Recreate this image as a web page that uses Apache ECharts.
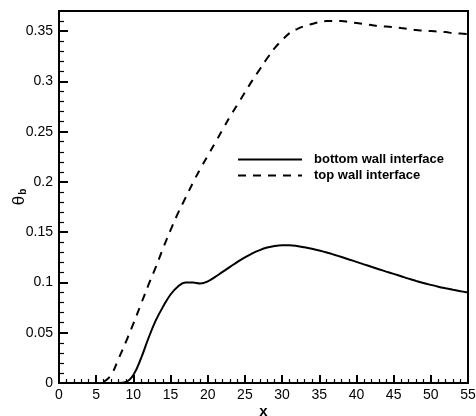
<!DOCTYPE html>
<html>
<head>
<meta charset="utf-8">
<script src="https://cdn.jsdelivr.net/npm/echarts@6/dist/echarts.min.js"></script>
<style>html,body{margin:0;padding:0;background:#fff;}#c{width:476px;height:416px;}</style>
</head>
<body>
<div id="c"></div>
<script>
// x positions
var xBottom = [0, 8, 9, 10, 11, 12, 13, 14, 15, 16, 17, 18, 19, 20, 21, 22, 23, 24, 25, 26, 27, 28, 29, 30, 31, 32, 33, 34, 35, 36, 37, 38, 39, 40, 41, 42, 43, 44, 45, 46, 47, 48, 49, 50, 51, 52, 53, 54, 55];
var yBottom = [0, 0, 0.001, 0.008, 0.024, 0.044, 0.062, 0.076, 0.088, 0.096, 0.100, 0.100, 0.099, 0.101, 0.1055, 0.1105, 0.1155, 0.1205, 0.125, 0.129, 0.1322, 0.1347, 0.1363, 0.137, 0.137, 0.1363, 0.135, 0.1335, 0.1318, 0.1298, 0.1276, 0.1253, 0.1229, 0.1205, 0.118, 0.1156, 0.1132, 0.1108, 0.1085, 0.1062, 0.1038, 0.1016, 0.0995, 0.0976, 0.0958, 0.0942, 0.0927, 0.0913, 0.090];
var xTop = [0, 5.5, 6, 7, 8, 9, 10, 11, 12, 13, 14, 15, 16, 17, 18, 19, 20, 21, 22, 23, 24, 25, 26, 27, 28, 29, 30, 31, 32, 33, 34, 35, 36, 37, 38, 39, 40, 41, 42, 43, 44, 45, 46, 47, 48, 49, 50, 51, 52, 53, 54, 55];
var yTop = [0, 0, 0.001, 0.008, 0.024, 0.041, 0.059, 0.078, 0.097, 0.115, 0.134, 0.152, 0.169, 0.184, 0.199, 0.213, 0.226, 0.239, 0.252, 0.265, 0.277, 0.289, 0.301, 0.312, 0.323, 0.333, 0.341, 0.348, 0.352, 0.355, 0.357, 0.359, 0.360, 0.360, 0.360, 0.359, 0.358, 0.357, 0.356, 0.355, 0.3545, 0.354, 0.353, 0.352, 0.351, 0.3505, 0.350, 0.3495, 0.349, 0.348, 0.3475, 0.347];
var seriesNames = ['bottom wall interface', 'top wall interface'];
var xMinorTicks = [1,2,3,4,6,7,8,9,11,12,13,14,16,17,18,19,21,22,23,24,26,27,28,29,31,32,33,34,36,37,38,39,41,42,43,44,46,47,48,49,51,52,53,54];
var yMinorTicks = [0.01,0.02,0.03,0.04,0.06,0.07,0.08,0.09,0.11,0.12,0.13,0.14,0.16,0.17,0.18,0.19,0.21,0.22,0.23,0.24,0.26,0.27,0.28,0.29,0.31,0.32,0.33,0.34,0.36];

function pairs(xs, ys) { return xs.map(function (x, i) { return [x, ys[i]]; }); }

var font = "'Liberation Sans', Arial, Helvetica, sans-serif";
var chart = echarts.init(document.getElementById('c'), null, {renderer: 'canvas'});
chart.setOption({
  animation: false,
  backgroundColor: '#fff',
  textStyle: {fontFamily: font, color: '#000'},
  grid: {left: 59, right: 8, top: 11, bottom: 33, containLabel: false, outerBoundsMode: 'none',
         show: true, borderColor: '#000', borderWidth: 2, backgroundColor: 'transparent'},
  legend: {
    orient: 'vertical', left: 232, top: 148, itemWidth: 64, itemHeight: 12, itemGap: 3,
    itemStyle: {opacity: 0},
    textStyle: {fontFamily: font, fontSize: 13, fontWeight: 'bold', color: '#000', padding: [0, 0, 0, 7]},
    data: seriesNames
  },
  xAxis: [{
    type: 'value', min: 0, max: 55, interval: 5, position: 'bottom',
    name: 'x', nameLocation: 'middle', nameGap: 21, nameMoveOverlap: false,
    nameTextStyle: {fontFamily: font, fontSize: 15, fontWeight: 'bold', color: '#000'},
    axisLine: {show: true, onZero: false, lineStyle: {color: '#000', width: 2}},
    axisTick: {show: true, inside: true, length: 8, lineStyle: {color: '#000', width: 2}},
    axisLabel: {fontFamily: font, fontSize: 14, color: '#000', margin: 5},
    splitLine: {show: false}
  }, {
    type: 'value', min: 0, max: 55, position: 'bottom', offset: 0,
    axisLine: {show: true, onZero: false, lineStyle: {color: '#000', width: 2}},
    axisTick: {show: true, inside: true, length: 4, customValues: xMinorTicks, lineStyle: {color: '#000', width: 1.2}},
    axisLabel: {show: false, customValues: xMinorTicks},
    splitLine: {show: false}
  }],
  yAxis: [{
    type: 'value', min: 0, max: 0.37, position: 'left', interval: 0.05,
    name: '{t|θ}{s|b}', nameLocation: 'middle', nameGap: 31, nameMoveOverlap: false,
    nameTextStyle: {fontFamily: font, color: '#000', rich: {
      t: {fontFamily: font, fontSize: 17, color: '#000'},
      s: {fontFamily: font, fontSize: 10, fontWeight: 'bold', color: '#000', padding: [7, 0, 0, 1]}
    }},
    axisLine: {show: true, onZero: false, lineStyle: {color: '#000', width: 2}},
    axisTick: {show: true, inside: true, length: 9, lineStyle: {color: '#000', width: 2}},
    axisLabel: {fontFamily: font, fontSize: 14, color: '#000', margin: 6, showMaxLabel: false},
    splitLine: {show: false}
  }, {
    type: 'value', min: 0, max: 0.37, position: 'left', offset: 0,
    axisLine: {show: true, onZero: false, lineStyle: {color: '#000', width: 2}},
    axisTick: {show: true, inside: true, length: 5, customValues: yMinorTicks, lineStyle: {color: '#000', width: 1.2}},
    axisLabel: {show: false, customValues: yMinorTicks},
    splitLine: {show: false}
  }],
  series: [{
    name: seriesNames[0], type: 'line', xAxisIndex: 0, yAxisIndex: 0, symbol: 'none', smooth: 0.4,
    data: pairs(xBottom, yBottom),
    lineStyle: {color: '#000', width: 2, type: 'solid'}, itemStyle: {color: '#000'}
  }, {
    name: seriesNames[1], type: 'line', xAxisIndex: 0, yAxisIndex: 0, symbol: 'none', smooth: 0.4,
    data: pairs(xTop, yTop),
    lineStyle: {color: '#000', width: 2, type: [8, 7]}, itemStyle: {color: '#000'}
  }]
});
</script>
</body>
</html>
